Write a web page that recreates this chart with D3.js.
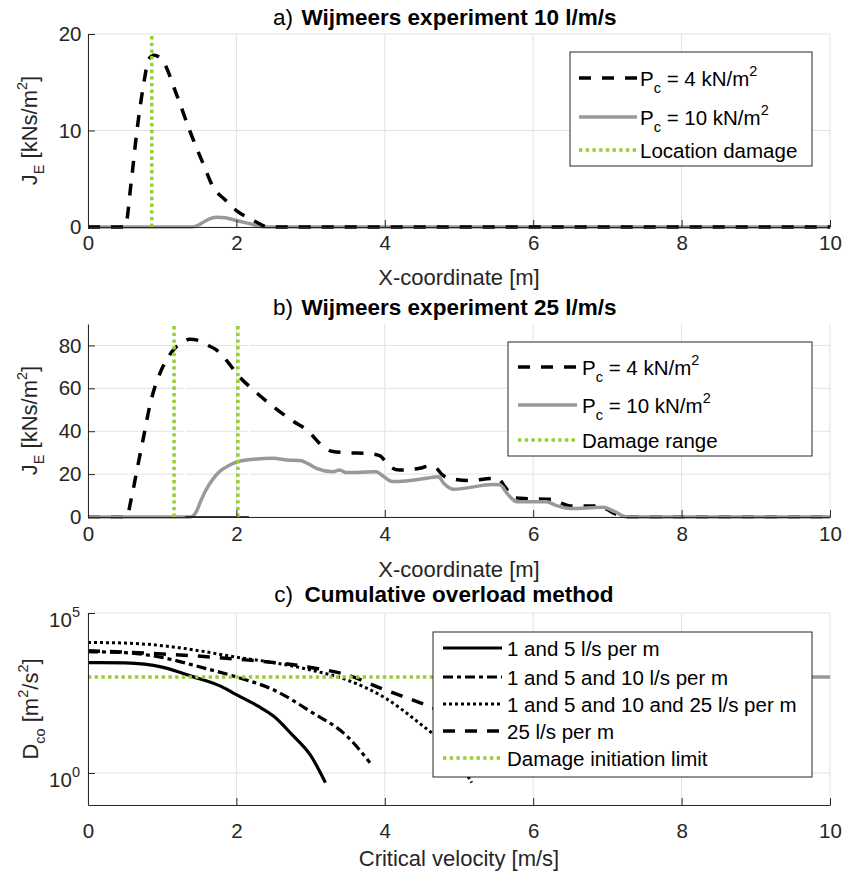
<!DOCTYPE html>
<html><head><meta charset="utf-8">
<script src="https://cdn.jsdelivr.net/npm/d3@7"></script>
<style>
body{margin:0;background:#fff}
svg{display:block}
text{font-family:"Liberation Sans",Arial,Helvetica,sans-serif}
</style>
</head><body>
<svg id="chart" width="846" height="873"></svg>
<script>
// ---------------- DATA ----------------
const xTicks = [0, 2, 4, 6, 8, 10];
const yTicksA = [0, 10, 20];
const yTicksB = [0, 20, 40, 60, 80];
const yTicksC = [1, 100000];

// Panel a) Wijmeers experiment 10 l/m/s
const aX4  = [0, 0.5, 0.58, 0.66, 0.75, 0.82, 0.89, 1.0, 1.2, 1.37, 1.55, 1.69, 1.85, 2.0, 2.2, 2.36, 2.42, 10];
const aY4  = [0, 0, 4.5, 10, 14.8, 17.4, 17.8, 17.3, 13.6, 10, 6.6, 4.1, 2.8, 1.7, 0.8, 0.15, 0, 0];
const aX10 = [0, 1.4, 1.5, 1.6, 1.73, 1.85, 1.96, 2.15, 2.38, 10];
const aY10 = [0, 0, 0.25, 0.7, 1.0, 0.95, 0.75, 0.4, 0, 0];
const aDamage = [0.86];

// Panel b) Wijmeers experiment 25 l/m/s
const bX4  = [0, 0.52, 0.58, 0.66, 0.75, 0.84, 0.97, 1.1, 1.17, 1.28, 1.37, 1.5, 1.62, 1.73, 1.88, 2.02, 2.23, 2.5, 2.77, 2.95, 3.17, 3.3, 3.48, 3.75, 3.93, 4.07, 4.2, 4.47, 4.6, 4.68, 4.78, 4.88, 5.15, 5.45, 5.52, 5.62, 5.73, 5.83, 6.27, 6.38, 6.5, 6.92, 7.0, 7.1, 7.25, 10];
const bY4  = [0, 0, 8, 21.9, 37.5, 53, 67, 75.6, 78.7, 81.5, 82.9, 82.2, 80, 77.9, 72.5, 66.2, 59.2, 51.4, 44.5, 40.6, 32.8, 30.5, 30, 29.7, 28.6, 23.5, 21.9, 22.7, 23.8, 23.2, 19.5, 18, 17, 18, 18, 14, 9.5, 8.7, 8.2, 6.5, 5.1, 5.1, 3.5, 1.5, 0, 0];
const bX10 = [0, 1.38, 1.46, 1.52, 1.59, 1.68, 1.77, 1.9, 2.02, 2.23, 2.5, 2.68, 2.86, 2.97, 3.08, 3.3, 3.39, 3.48, 3.88, 3.98, 4.1, 4.47, 4.65, 4.72, 4.8, 4.93, 5.46, 5.55, 5.66, 5.78, 6.18, 6.3, 6.5, 6.94, 7.1, 7.26, 10];
const bY10 = [0, 0, 2.5, 7.5, 12.6, 17.5, 21.1, 24, 25.8, 26.9, 27.4, 26.6, 26.3, 24.8, 22.7, 21.1, 21.9, 20.7, 21.1, 19, 16.5, 17.6, 18.5, 18.8, 15.5, 12.9, 15.2, 15, 10.5, 7.1, 7.1, 5.5, 4, 4.5, 2.5, 0, 0];
const bDamage = [1.16, 2.02];
const bPatch = [1.31, 2.17];

// Panel c) Cumulative overload method
const cX15     = [0, 0.5, 1.0, 1.4, 1.8, 2.0, 2.3, 2.5, 2.75, 3.0, 3.2];
const cY15     = [2818, 2754, 2042, 1047, 501, 282, 120, 60.3, 15.8, 3.55, 0.5];
const cX1510   = [0, 0.5, 1.0, 1.5, 2.0, 2.5, 3.0, 3.5, 3.8];
const cY1510   = [6166, 5754, 4074, 2089, 1000, 398, 83.2, 13.5, 2.09];
const cX151025 = [0, 0.5, 1.0, 1.5, 2.0, 2.5, 3.0, 3.5, 4.0, 4.47, 4.8, 5.0, 5.17];
const cY151025 = [12023, 11482, 9550, 6607, 4169, 2818, 1660, 794, 224, 35.5, 7.94, 2.24, 0.5];
const cX25     = [0, 1.0, 2.0, 3.0, 3.5, 4.0, 4.47, 5.0, 5.5, 6.0];
const cY25     = [6607, 5248, 3631, 1995, 1148, 398, 158, 50, 12.6, 2.5];
const cLimitX  = [0, 6];
const cLimitY  = [1000, 1000];
const cGrayX   = [6, 10];
const cGrayY   = [1000, 1000];

// ---------------- DRAWING ----------------
const svg = d3.select("#chart");
const L = 88, R = 830;
const AX = "#262626", GRID = "#e2e2e2", GRAY = "#999999", GREEN = "#99cc33";
const TICKF = 20.5, LABF = 22, TITF = 22.5, LEGF = 20.5;

const styles = {
  dash:    {stroke: "#000", w: 3.5, dash: "12,11"},
  gray:    {stroke: GRAY, w: 3.5, dash: null},
  green:   {stroke: GREEN, w: 3.5, dash: "3.4,3.3"},
  solid:   {stroke: "#000", w: 3.2, dash: null},
  dashdot: {stroke: "#000", w: 3.2, dash: "10,4,4,4"},
  dot:     {stroke: "#000", w: 3, dash: "3,3"},
  dash25:  {stroke: "#000", w: 3.5, dash: "12,10"}
};

function series(g, x, y, xs, ys, st, curve) {
  g.append("path")
    .datum(d3.zip(xs, ys))
    .attr("fill", "none")
    .attr("stroke", st.stroke)
    .attr("stroke-width", st.w)
    .attr("stroke-dasharray", st.dash)
    .attr("d", d3.line().x(d => x(d[0])).y(d => y(d[1])).curve(curve || d3.curveMonotoneX));
}

function addParts(t, parts) {
  let shift = 0;
  parts.forEach(p => {
    const ts = t.append("tspan").text(p.t);
    let target = p.sub ? 7 : (p.sup ? -10 : 0);
    ts.attr("dy", target - shift);
    shift = target;
    if (p.sub || p.sup) ts.attr("font-size", 14.5);
  });
}

function panel(o) {
  const x = d3.scaleLinear().domain([0, 10]).range([L, R]);
  const y = (o.log ? d3.scaleLog() : d3.scaleLinear()).domain(o.yDomain).range([o.bottom, o.top]);
  const g = svg.append("g");

  // grid
  g.append("g").selectAll("line").data(xTicks).join("line")
    .attr("x1", d => x(d)).attr("x2", d => x(d))
    .attr("y1", o.top).attr("y2", o.bottom)
    .attr("stroke", GRID).attr("stroke-width", 1);
  g.append("g").selectAll("line").data(o.yTicks).join("line")
    .attr("x1", L).attr("x2", R)
    .attr("y1", d => y(d)).attr("y2", d => y(d))
    .attr("stroke", GRID).attr("stroke-width", 1);

  o.draw(g, x, y);

  // x axis
  const xa = g.append("g").attr("transform", `translate(0,${o.bottom})`)
    .call(d3.axisBottom(x).tickValues(xTicks).tickSize(-7).tickSizeOuter(0).tickPadding(o.xPad));
  xa.select(".domain").attr("stroke", AX);
  xa.selectAll(".tick line").attr("stroke", AX);
  xa.selectAll("text").attr("fill", AX).attr("font-size", TICKF).attr("font-family", null);

  // y axis
  if (!o.log) {
    const ya = g.append("g").attr("transform", `translate(${L},0)`)
      .call(d3.axisLeft(y).tickValues(o.yTicks).tickSize(-7).tickSizeOuter(0).tickPadding(6.5));
    ya.select(".domain").attr("stroke", AX);
    ya.selectAll(".tick line").attr("stroke", AX);
    ya.selectAll("text").attr("fill", AX).attr("font-size", TICKF).attr("font-family", null);
  } else {
    const ya = g.append("g").attr("transform", `translate(${L},0)`)
      .call(d3.axisLeft(y).tickValues(o.yTicks).tickSize(-7).tickSizeOuter(0).tickFormat(""));
    ya.select(".domain").attr("stroke", AX);
    ya.selectAll(".tick line").attr("stroke", AX);
    o.yTicks.forEach(v => {
      const t = g.append("text").attr("x", 80).attr("y", y(v) + 14)
        .attr("text-anchor", "end").attr("fill", AX).attr("font-size", TICKF);
      t.append("tspan").text("10");
      t.append("tspan").text(String(Math.round(Math.log10(v)))).attr("font-size", 14.5).attr("dy", -10);
    });
  }

  // x label
  g.append("text").attr("x", (L + R) / 2).attr("y", o.xLabY)
    .attr("text-anchor", "middle").attr("fill", AX).attr("font-size", LABF).text(o.xLabel);

  // y label
  const yl = g.append("text")
    .attr("transform", `translate(${o.yLabX},${(o.top + o.bottom) / 2}) rotate(-90)`)
    .attr("text-anchor", "middle").attr("fill", AX).attr("font-size", LABF);
  addParts(yl, o.yLabel);

  // title
  g.append("text").attr("x", (L + R) / 2).attr("y", o.titleY)
    .attr("text-anchor", "middle").attr("font-weight", "bold").attr("font-size", TITF)
    .attr("fill", "#000").text(o.title);
  g.append("text").attr("x", 293).attr("y", o.titleY)
    .attr("text-anchor", "end").attr("font-size", TITF).attr("fill", "#000").text(o.tag);

  // legend
  const lg = o.legend;
  g.append("rect").attr("x", lg.x).attr("y", lg.y).attr("width", lg.w).attr("height", lg.h)
    .attr("fill", "#fff").attr("stroke", AX).attr("stroke-width", 1);
  lg.items.forEach(it => {
    const st = styles[it.style];
    g.append("line").attr("x1", lg.lx1).attr("x2", lg.lx2).attr("y1", it.y).attr("y2", it.y)
      .attr("stroke", st.stroke).attr("stroke-width", st.w).attr("stroke-dasharray", st.dash);
    const t = g.append("text").attr("x", lg.tx).attr("y", it.y + 7.5)
      .attr("fill", "#000").attr("font-size", LEGF);
    addParts(t, it.parts);
  });
}

const pc4  = [{t: "P"}, {t: "c", sub: true}, {t: " = 4 kN/m"}, {t: "2", sup: true}];
const pc10 = [{t: "P"}, {t: "c", sub: true}, {t: " = 10 kN/m"}, {t: "2", sup: true}];
const jeLabel = [{t: "J"}, {t: "E", sub: true}, {t: " [kNs/m"}, {t: "2", sup: true}, {t: "]"}];

panel({
  top: 34, bottom: 227, yDomain: [0, 20], yTicks: yTicksA, xPad: 8.5,
  title: "Wijmeers experiment 10 l/m/s", tag: "a)", titleY: 25,
  xLabel: "X-coordinate [m]", xLabY: 285, yLabX: 37, yLabel: jeLabel,
  draw: (g, x, y) => {
    series(g, x, y, aX10, aY10, styles.gray);
    series(g, x, y, aX4, aY4, styles.dash);
    aDamage.forEach(v => g.append("line").attr("x1", x(v)).attr("x2", x(v))
      .attr("y1", y(0)).attr("y2", y(20))
      .attr("stroke", GREEN).attr("stroke-width", 3.5).attr("stroke-dasharray", "3.4,3.3"));
  },
  legend: {x: 570, y: 52, w: 242, h: 114, lx1: 579, lx2: 637, tx: 640,
    items: [{y: 78, style: "dash", parts: pc4}, {y: 117, style: "gray", parts: pc10},
            {y: 150, style: "green", parts: [{t: "Location damage"}]}]}
});

panel({
  top: 324, bottom: 517, yDomain: [0, 90], yTicks: yTicksB, xPad: 9,
  title: "Wijmeers experiment 25 l/m/s", tag: "b)", titleY: 315,
  xLabel: "X-coordinate [m]", xLabY: 577, yLabX: 37, yLabel: jeLabel,
  draw: (g, x, y) => {
    bPatch.forEach(v => g.append("line").attr("x1", x(v)).attr("x2", x(v))
      .attr("y1", y(90)).attr("y2", y(0)).attr("stroke", "#fff").attr("stroke-width", 2));
    series(g, x, y, bX4, bY4, styles.dash);
    series(g, x, y, bX10, bY10, styles.gray);
    g.append("line").attr("x1", x(bPatch[0])).attr("x2", x(bPatch[1]))
      .attr("y1", y(0)).attr("y2", y(0)).attr("stroke", "#000").attr("stroke-width", 1.5);
    bDamage.forEach(v => g.append("line").attr("x1", x(v)).attr("x2", x(v))
      .attr("y1", y(0)).attr("y2", y(90))
      .attr("stroke", GREEN).attr("stroke-width", 3.5).attr("stroke-dasharray", "3.4,3.3"));
  },
  legend: {x: 508, y: 342, w: 304, h: 114, lx1: 518, lx2: 577, tx: 582,
    items: [{y: 367, style: "dash", parts: pc4}, {y: 405, style: "gray", parts: pc10},
            {y: 440, style: "green", parts: [{t: "Damage range"}]}]}
});

panel({
  top: 613, bottom: 805, yDomain: [0.1, 100000], yTicks: yTicksC, log: true, xPad: 18,
  title: "Cumulative overload method", tag: "c)", titleY: 602,
  xLabel: "Critical velocity [m/s]", xLabY: 866, yLabX: 38,
  yLabel: [{t: "D"}, {t: "co", sub: true}, {t: " [m"}, {t: "2", sup: true}, {t: "/s"}, {t: "2", sup: true}, {t: "]"}],
  draw: (g, x, y) => {
    series(g, x, y, cGrayX, cGrayY, styles.gray, d3.curveLinear);
    series(g, x, y, cX15, cY15, styles.solid);
    series(g, x, y, cX1510, cY1510, styles.dashdot);
    series(g, x, y, cX151025, cY151025, styles.dot);
    series(g, x, y, cX25, cY25, styles.dash25);
    series(g, x, y, cLimitX, cLimitY, styles.green, d3.curveLinear);
  },
  legend: {x: 433, y: 632, w: 379, h: 145, lx1: 443, lx2: 502, tx: 507,
    items: [{y: 648, style: "solid", parts: [{t: "1 and 5 l/s per m"}]},
            {y: 677, style: "dashdot", parts: [{t: "1 and 5 and 10 l/s per m"}]},
            {y: 704, style: "dot", parts: [{t: "1 and 5 and 10 and 25 l/s per m"}]},
            {y: 731, style: "dash25", parts: [{t: "25 l/s per m"}]},
            {y: 758, style: "green", parts: [{t: "Damage initiation limit"}]}]}
});
</script>
</body></html>
